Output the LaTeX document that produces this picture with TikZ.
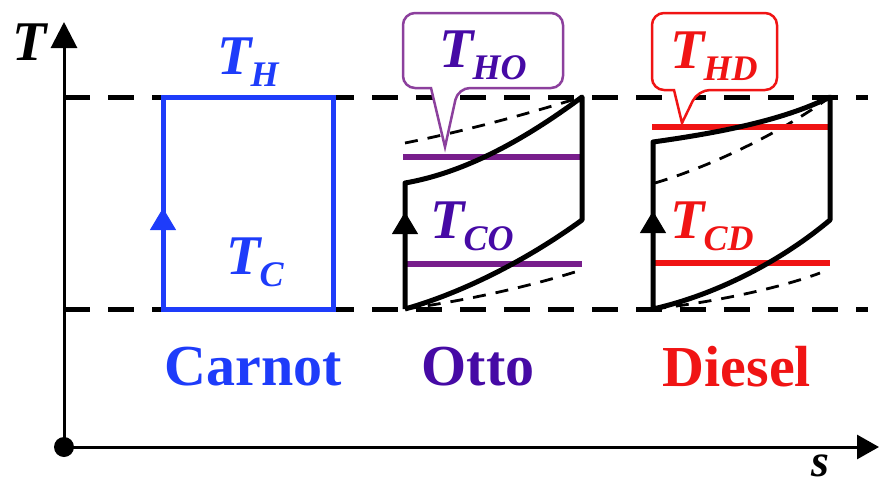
\documentclass[tikz,border=0pt]{standalone}
\usepackage{fontspec}
\setmainfont{Liberation Serif}
\usetikzlibrary{arrows.meta}
\definecolor{cblue}{RGB}{30,60,250}
\definecolor{opurp}{RGB}{120,30,140}
\definecolor{otext}{RGB}{70,10,165}
\definecolor{dred}{RGB}{240,20,20}
\newcommand\TsubX[1]{\bfseries\itshape T\kern-1pt\raisebox{-12pt}{\fontsize{36}{36}\selectfont #1}}
\tikzset{
  lvl/.style={line width=5pt, dash pattern=on 26pt off 18pt},
  cyc/.style={line width=5pt, black, line join=round},
  thindash/.style={line width=2.8pt, dash pattern=on 13pt off 10pt},
  upar/.style={-{Triangle[length=22pt,width=26pt]}},
  lbl/.style={inner sep=0pt, font=\fontsize{56}{56}\selectfont},
  cyclbl/.style={inner sep=0pt, font=\fontsize{58}{58}\selectfont\bfseries},
  callout/.style={line width=2.5pt, fill=white, rounded corners=12pt}
}
\begin{document}
\begin{tikzpicture}[x=1pt,y=-1pt]
\useasboundingbox (0,0) rectangle (879,490);
% axes
\coordinate (O) at (64,447);
\coordinate (Ytop) at (64,22);
\coordinate (Xend) at (879,447);
\draw[line width=3pt,-{Triangle[length=26pt,width=26pt]}] (O) -- (Ytop);
\draw[line width=3pt,-{Triangle[length=22pt,width=24pt]}] (O) -- (Xend);
\fill (O) circle (10pt);
\node[lbl] (Tax) at (30,42) {\bfseries\itshape T};
\node[inner sep=0pt, font=\fontsize{46}{46}\selectfont\bfseries\itshape] (sax) at (820,466) {s};
% level lines
\coordinate (H0) at (64,97); \coordinate (H1) at (868,97);
\coordinate (C0) at (64,309); \coordinate (C1) at (868,309);
\draw[lvl] (H0) -- (H1);
\draw[lvl] (C0) -- (C1);
% Carnot
\coordinate (ca1) at (163,309); \coordinate (ca2) at (163,97);
\coordinate (ca3) at (333,97); \coordinate (ca4) at (333,309);
\draw[cblue, line width=5pt, line join=miter] (ca1) -- (ca2) -- (ca3) -- (ca4) -- cycle;
\draw[cblue, line width=1pt, upar] (163,240) -- (163,208);
\node[lbl, text=cblue] (TH) at (248,62) {\TsubX{H}};
\node[lbl, text=cblue] (TC) at (255,262) {\TsubX{C}};
\node[cyclbl, text=cblue] (carnot) at (253,367) {Carnot};
% Otto
\coordinate (o1) at (405,309); \coordinate (o2) at (405,183);
\coordinate (o3) at (582,97); \coordinate (o4) at (582,220);
\draw[thindash] (405,143) .. controls (470,130) and (530,113) .. (o3);
\draw[thindash] (o1) .. controls (470,300) and (530,286) .. (575,272);
\draw[opurp, line width=5.5pt] (403,157) -- (582,157);
\draw[opurp, line width=5.5pt] (403,264) -- (582,264);
\draw[cyc] (o1) -- (o2) .. controls (468,172) and (528,137) .. (o3) -- (o4) .. controls (530,258) and (465,292) .. (o1);
\draw[black, line width=1pt, upar] (405,238) -- (405,212);
\node[lbl, text=otext] (TCO) at (472,226) {\TsubX{CO}};
\draw[callout, draw=opurp!85!white] (431,88) -- (403,88) -- (403,13) -- (563,13) -- (563,88) -- (458,88) [sharp corners] -- (445,147) -- cycle;
\node[lbl, text=otext] (THO) at (483,55) {\TsubX{HO}};
\node[cyclbl, text=otext] (otto) at (478,367) {Otto};
% Diesel
\coordinate (d1) at (653,309); \coordinate (d2) at (653,142);
\coordinate (d3) at (830,97); \coordinate (d4) at (830,220);
\draw[thindash] (655,183) .. controls (715,165) and (785,130) .. (d3);
\draw[thindash] (d1) .. controls (715,302) and (780,288) .. (820,273);
\draw[dred, line width=5.5pt] (652,127) -- (830,127);
\draw[dred, line width=5.5pt] (652,263) -- (830,263);
\draw[cyc] (d1) -- (d2) .. controls (710,134) and (780,122) .. (d3) -- (d4) .. controls (780,262) and (715,295) .. (d1);
\draw[black, line width=1pt, upar] (653,238) -- (653,211);
\node[lbl, text=dred] (TCD) at (712,226) {\TsubX{CD}};
\draw[callout, draw=dred] (674,90) -- (652,90) -- (652,13) -- (777,13) -- (777,90) -- (698,90) [sharp corners] -- (682,123) -- cycle;
\node[lbl, text=dred] (THD) at (714,56) {\TsubX{HD}};
\node[cyclbl, text=dred] (diesel) at (737,367) {Diesel};
\end{tikzpicture}
\end{document}
